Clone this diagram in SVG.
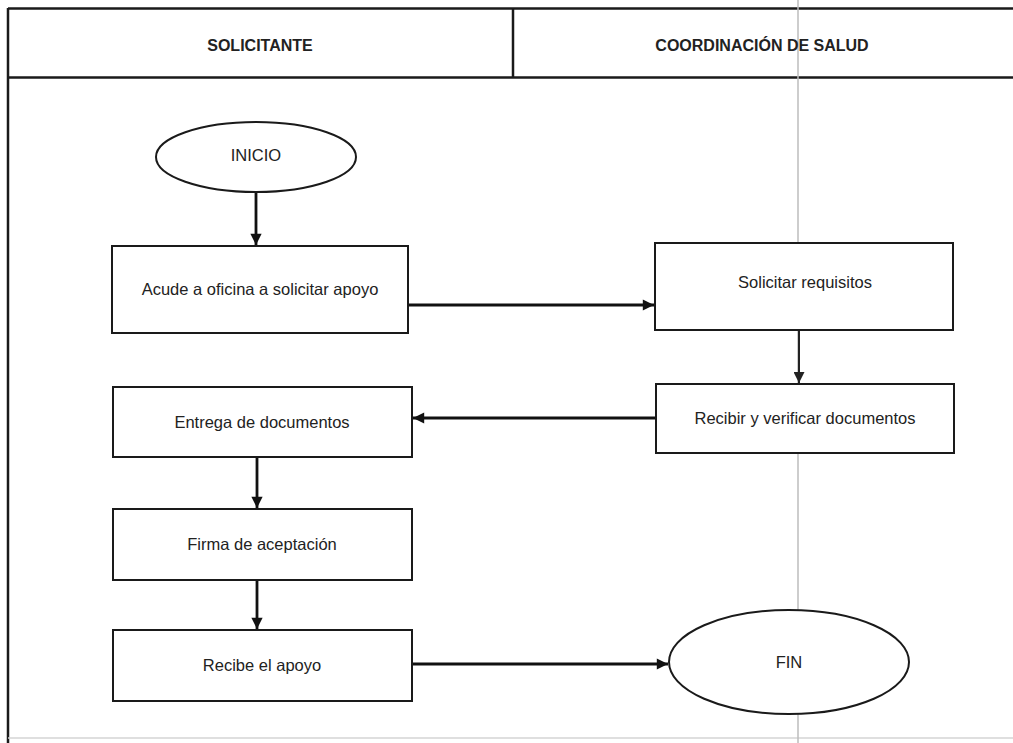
<svg xmlns="http://www.w3.org/2000/svg" width="1013" height="743" viewBox="0 0 1013 743">
<style>
.frame{fill:none;stroke:#1a1a1a;stroke-width:2.5}
.box{fill:#fff;stroke:#1a1a1a;stroke-width:2}
.lbl{font-family:"Liberation Sans",Arial,sans-serif;font-size:16.5px;fill:#222;text-anchor:middle}
.hdr{font-family:"Liberation Sans",Arial,sans-serif;font-size:16px;font-weight:bold;fill:#222;text-anchor:middle}
.conn{fill:none;stroke:#111;stroke-width:2.8}
.conn2{fill:none;stroke:#222;stroke-width:2}
</style>
<defs>
<marker id="ah" viewBox="0 0 10 10" refX="10" refY="5" markerWidth="4.5" markerHeight="4" orient="auto" markerUnits="strokeWidth">
<path d="M0,0 L10,5 L0,10 z" fill="#111"/>
</marker>
<marker id="ah2" viewBox="0 0 10 10" refX="10" refY="5" markerWidth="6" markerHeight="5.5" orient="auto" markerUnits="strokeWidth">
<path d="M0,0 L10,5 L0,10 z" fill="#222"/>
</marker>
</defs>
<rect width="1013" height="743" fill="#fff"/>
<g id="frame">
<line class="frame" x1="8" y1="8.5" x2="1013" y2="8.5"/>
<line class="frame" x1="8" y1="77.5" x2="1013" y2="77.5"/>
<line class="frame" x1="8" y1="8" x2="8" y2="743"/>
<line class="frame" x1="513" y1="8" x2="513" y2="78" stroke-width="2"/>
<line x1="8" y1="738" x2="1013" y2="738" stroke="#d4d4d4" stroke-width="1.5"/>
<line x1="798" y1="0" x2="798" y2="743" stroke="#bdbdbd" stroke-width="1.5"/>
</g>
<g id="lane-solicitante"><text class="hdr" x="260" y="51">SOLICITANTE</text></g>
<g id="lane-coordinacion"><text class="hdr" x="762" y="51">COORDINACIÓN DE SALUD</text></g>
<g id="connectors">
<line class="conn" x1="256" y1="192" x2="256" y2="245" marker-end="url(#ah)"/>
<line class="conn" x1="409" y1="305" x2="654" y2="305" marker-end="url(#ah)"/>
<line class="conn2" x1="799" y1="331" x2="799" y2="383" marker-end="url(#ah2)"/>
<line class="conn" x1="655" y1="418" x2="413" y2="418" marker-end="url(#ah)"/>
<line class="conn" x1="257" y1="458" x2="257" y2="508" marker-end="url(#ah)"/>
<line class="conn" x1="257" y1="581" x2="257" y2="629" marker-end="url(#ah)"/>
<line class="conn" x1="413" y1="664" x2="668" y2="664" marker-end="url(#ah)"/>
</g>
<g id="inicio">
<ellipse class="box" cx="256" cy="157" rx="100" ry="35"/>
<text class="lbl" x="256" y="161" font-size="16">INICIO</text>
</g>
<g id="acude">
<rect class="box" x="112" y="246" width="296" height="87"/>
<text class="lbl" x="260" y="295">Acude a oficina a solicitar apoyo</text>
</g>
<g id="solicitar">
<rect class="box" x="655" y="243" width="298" height="87"/>
<text class="lbl" x="805" y="288">Solicitar requisitos</text>
</g>
<g id="recibir">
<rect class="box" x="656" y="384" width="298" height="69"/>
<text class="lbl" x="805" y="424">Recibir y verificar documentos</text>
</g>
<g id="entrega">
<rect class="box" x="113" y="387" width="299" height="70"/>
<text class="lbl" x="262" y="428">Entrega de documentos</text>
</g>
<g id="firma">
<rect class="box" x="113" y="509" width="299" height="71"/>
<text class="lbl" x="262" y="550">Firma de aceptación</text>
</g>
<g id="recibe">
<rect class="box" x="113" y="630" width="299" height="71"/>
<text class="lbl" x="262" y="671">Recibe el apoyo</text>
</g>
<g id="fin">
<ellipse class="box" cx="789" cy="662" rx="120" ry="52"/>
<text class="lbl" x="789" y="668" font-size="16">FIN</text>
</g>
</svg>
